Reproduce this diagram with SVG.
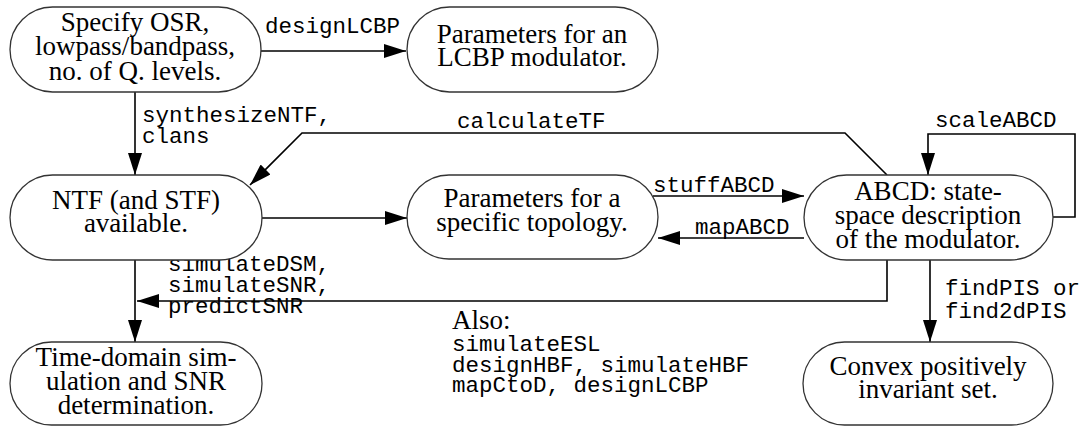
<svg xmlns="http://www.w3.org/2000/svg" width="1087" height="428" viewBox="0 0 1087 428">
<style>
.node rect{fill:#fff;stroke:#333;stroke-width:1.3}
.node text{font-family:"Liberation Serif",serif;font-size:27px;fill:#000;text-anchor:middle}
.lbl{font-family:"Liberation Mono",monospace;font-size:22.5px;fill:#000}
.ser{font-family:"Liberation Serif",serif;font-size:27px;fill:#000}
#connectors path{fill:none;stroke:#000;stroke-width:1.6}
</style>
<defs>
<marker id="ah" markerUnits="userSpaceOnUse" markerWidth="22" markerHeight="14" refX="22" refY="7" orient="auto">
<path d="M0,0 L22,7 L0,14 z" fill="#000"/>
</marker>
</defs>
<rect width="1087" height="428" fill="#fff"/>
<g id="connectors">
<path d="M261,51 H406" marker-end="url(#ah)"/>
<path d="M135,92 V175" marker-end="url(#ah)"/>
<path d="M887,175 L845,133 H302 L250,185" marker-end="url(#ah)"/>
<path d="M1053,217 H1075 V134 H928 V175" marker-end="url(#ah)"/>
<path d="M262,218 H407" marker-end="url(#ah)"/>
<path d="M653,196 H804" marker-end="url(#ah)"/>
<path d="M804,238 H658" marker-end="url(#ah)"/>
<path d="M135,260 V342" marker-end="url(#ah)"/>
<path d="M887,260 V301 H137" marker-end="url(#ah)"/>
<path d="M930,260 V342" marker-end="url(#ah)"/>
<text class="lbl" x="265" y="33">designLCBP</text>
<text class="lbl" x="142" y="122">synthesizeNTF,</text>
<text class="lbl" x="142" y="143">clans</text>
<text class="lbl" x="457" y="128">calculateTF</text>
<text class="lbl" x="935" y="127">scaleABCD</text>
<text class="lbl" x="653" y="192">stuffABCD</text>
<text class="lbl" x="695" y="234">mapABCD</text>
<text class="lbl" x="168" y="271">simulateDSM,</text>
<text class="lbl" x="168" y="292">simulateSNR,</text>
<text class="lbl" x="168" y="313">predictSNR</text>
<text class="lbl" x="945" y="295">findPIS or</text>
<text class="lbl" x="945" y="318">find2dPIS</text>
</g>
<g id="n1" class="node"><rect x="10" y="7" width="251" height="85" rx="42.5"/>
<text x="135" y="31">Specify OSR,</text><text x="135" y="55">lowpass/bandpass,</text><text x="135" y="80">no. of Q. levels.</text></g>
<g id="n2" class="node"><rect x="407" y="7" width="251" height="85" rx="42.5"/>
<text x="532" y="43">Parameters for an</text><text x="532" y="66">LCBP modulator.</text></g>
<g id="n3" class="node"><rect x="10" y="175" width="252" height="85" rx="42.5"/>
<text x="136" y="209">NTF (and STF)</text><text x="136" y="232">available.</text></g>
<g id="n4" class="node"><rect x="407" y="175" width="251" height="84" rx="42"/>
<text x="532" y="207">Parameters for a</text><text x="532" y="231">specific topology.</text></g>
<g id="n5" class="node"><rect x="804" y="175" width="249" height="85" rx="42.5"/>
<text x="928" y="200">ABCD: state-</text><text x="928" y="224">space description</text><text x="928" y="248">of the modulator.</text></g>
<g id="n6" class="node"><rect x="10" y="342" width="252" height="83" rx="41.5"/>
<text x="136" y="366">Time-domain sim-</text><text x="136" y="390">ulation and SNR</text><text x="136" y="414">determination.</text></g>
<g id="n7" class="node"><rect x="803" y="342" width="250" height="83" rx="41.5"/>
<text x="928" y="375">Convex positively</text><text x="928" y="398">invariant set.</text></g>
<g id="also">
<text class="ser" x="452" y="329">Also:</text>
<text class="lbl" x="452" y="351">simulateESL</text>
<text class="lbl" x="452" y="372">designHBF, simulateHBF</text>
<text class="lbl" x="452" y="392">mapCtoD, designLCBP</text>
</g>
</svg>
